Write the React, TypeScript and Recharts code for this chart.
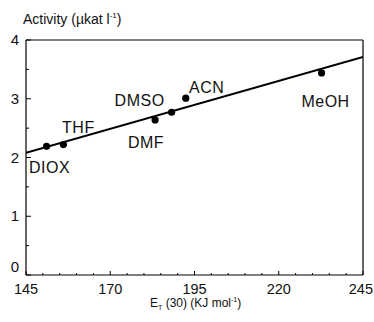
import { ComposedChart, Scatter, Line, XAxis, YAxis, LabelList, ReferenceLine } from "recharts";

const solvents = ["DIOX", "THF", "DMF", "DMSO", "ACN", "MeOH"];
const etValues = [151.1, 156.1, 183.3, 188.2, 192.4, 232.7];
const activity = [2.19, 2.22, 2.64, 2.77, 3.01, 3.44];

// regression line end points
const fitX = [145, 245];
const fitY = [2.08, 3.71];

const xMajorTicks = [145, 170, 195, 220, 245];
const xAllTicks = [145, 150, 155, 160, 165, 170, 175, 180, 185, 190, 195, 200, 205, 210, 215, 220, 225, 230, 235, 240, 245];
const yMajorTicks = [0, 1, 2, 3, 4];
const yAllTicks = [0, 0.5, 1, 1.5, 2, 2.5, 3, 3.5, 4];

// label placement relative to each dot (centre of text)
const labelOffsets: Record<string, [number, number]> = {
  DIOX: [3, 21],
  THF: [15, -18],
  DMF: [-9, 22],
  DMSO: [-32, -12],
  ACN: [21, -11],
  MeOH: [4, 28],
};

const points = solvents.map((name, i) => ({ name, x: etValues[i], y: activity[i] }));
const fitData = fitX.map((x, i) => ({ x, y: fitY[i] }));

const FONT = "'Liberation Sans', Arial, Helvetica, sans-serif";

const XTick = (props: any) => {
  const { x, y, payload } = props;
  const major = xMajorTicks.includes(payload.value);
  const last = payload.value === 245;
  return (
    <g>
      <line x1={x} x2={x} y1={y} y2={y - (major ? 4 : 2)} stroke="#000" strokeWidth={1} />
      {major && (
        <text x={last ? x + 10 : x} y={y + 19} textAnchor={last ? "end" : "middle"} fontSize={14.5} fontFamily={FONT} fill="#111">
          {payload.value}
        </text>
      )}
    </g>
  );
};

const YTick = (props: any) => {
  const { x, y, payload } = props;
  const major = yMajorTicks.includes(payload.value);
  const shift = payload.value === 0 ? -8 : 0;
  return (
    <g>
      <line x1={x} x2={x + (major ? 5 : 3)} y1={y} y2={y} stroke="#000" strokeWidth={1} />
      {major && (
        <text x={x - 7} y={y + 5 + shift} textAnchor="end" fontSize={15} fontFamily={FONT} fill="#111">
          {payload.value}
        </text>
      )}
    </g>
  );
};

const Dot = (props: any) => <circle cx={props.cx} cy={props.cy} r={3.6} fill="#000" />;

const PointLabel = (props: any) => {
  const { x, y, width, height, value } = props;
  const [dx, dy] = labelOffsets[value] || [0, -12];
  const cx = x + (width || 0) / 2 + dx;
  const cy = y + (height || 0) / 2 + dy;
  return (
    <text x={cx} y={cy + 6} textAnchor="middle" fontSize={16} fontFamily={FONT} fill="#111" letterSpacing={0.5}>
      {value}
    </text>
  );
};

export default function App() {
  return (
    <div style={{ position: "absolute", left: 0, top: 0, width: 374, height: 322, background: "#fff", fontFamily: FONT }}>
      <div style={{ position: "absolute", left: 23, top: 11, fontSize: 14, color: "#111", whiteSpace: "nowrap" }}>
        Activity (µkat l<sup style={{ fontSize: 8 }}>-1</sup>)
      </div>
      <ComposedChart width={374} height={322} margin={{ top: 40, right: 11, bottom: 0, left: 0 }}>
        <XAxis
          dataKey="x"
          type="number"
          domain={[145, 245]}
          ticks={xAllTicks}
          interval={0}
          tick={<XTick />}
          tickLine={false}
          tickSize={0}
          tickMargin={0}
          height={47}
          axisLine={{ stroke: "#000", strokeWidth: 1.2 }}
          allowDataOverflow
        />
        <YAxis
          dataKey="y"
          type="number"
          domain={[0, 4]}
          ticks={yAllTicks}
          interval={0}
          tick={<YTick />}
          tickLine={false}
          tickSize={0}
          tickMargin={0}
          width={26}
          axisLine={{ stroke: "#000", strokeWidth: 1.2 }}
          allowDataOverflow
        />
        <ReferenceLine y={4} stroke="#000" strokeWidth={1.2} />
        <ReferenceLine x={245} stroke="#000" strokeWidth={1.2} />
        <Line
          data={fitData}
          dataKey="y"
          type="linear"
          stroke="#000"
          strokeWidth={2}
          dot={false}
          activeDot={false}
          isAnimationActive={false}
        />
        <Scatter data={points} dataKey="y" fill="#000" shape={<Dot />} isAnimationActive={false}>
          <LabelList dataKey="name" content={<PointLabel />} />
        </Scatter>
      </ComposedChart>
      <div style={{ position: "absolute", left: 150, top: 296, fontSize: 12, color: "#111", whiteSpace: "nowrap" }}>
        E<sub style={{ fontSize: 7 }}>T</sub> (30) (KJ mol<sup style={{ fontSize: 7 }}>-1</sup>)
      </div>
    </div>
  );
}
